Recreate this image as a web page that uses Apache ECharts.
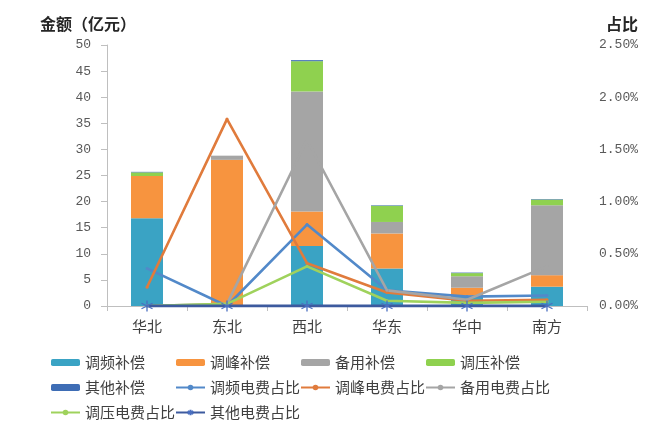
<!DOCTYPE html>
<html>
<head>
<meta charset="utf-8">
<script src="https://cdn.jsdelivr.net/npm/echarts@6/dist/echarts.min.js"></script>
<style>
  html, body { margin: 0; padding: 0; background: #fff; }
  #chart { width: 646px; height: 426px; }
</style>
</head>
<body>
<div id="chart"></div>
<script>
// 区域
var regions = ['华北', '东北', '西北', '华东', '华中', '南方'];

// 补偿金额（亿元）
var tiaopin = [16.8, 0, 11.5, 7.2, 2.0, 3.7];
var tiaofeng = [8.1, 28.0, 6.6, 6.7, 1.5, 2.2];
var beiyong = [0, 0.8, 23.0, 2.2, 2.2, 13.4];
var tiaoya = [0.7, 0, 5.8, 3.1, 0.6, 1.1];
var qita = [0.1, 0, 0.2, 0.1, 0.1, 0.1];

// 电费占比（%）
var tiaopinPct = [0.36, 0, 0.78, 0.15, 0.09, 0.10];
var tiaofengPct = [0.18, 1.79, 0.41, 0.13, 0.05, 0.06];
var beiyongPct = [0, 0.02, 1.59, 0.15, 0.06, 0.38];
var tiaoyaPct = [0, 0.02, 0.38, 0.05, 0.03, 0.04];
var qitaPct = [0, 0, 0, 0, 0, 0];

// 刻度
var leftTicks = [0, 50, 5];
var rightTicks = [0, 2.5, 0.5];

var myChart = echarts.init(document.getElementById('chart'));

var numFont = 'Liberation Mono';
var cnFont = 'Noto Sans CJK SC';
var starPath = 'path://M5,0L5,10M0.7,2.5L9.3,7.5M9.3,2.5L0.7,7.5';

function barSeries(name, data, color) {
    return {
        name: name,
        type: 'bar',
        stack: 'money',
        barWidth: '40%',
        data: data,
        itemStyle: { color: color }
    };
}

function lineSeries(name, data, color) {
    return {
        name: name,
        type: 'line',
        yAxisIndex: 1,
        data: data,
        symbol: 'circle',
        symbolSize: 3,
        lineStyle: { color: color, width: 2.6 },
        itemStyle: { color: color }
    };
}

var legendBase = {
    orient: 'vertical',
    top: 350,
    itemWidth: 29,
    itemHeight: 7,
    itemGap: 10,
    textStyle: { fontFamily: cnFont, fontSize: 15, color: '#404040' }
};

function legendAt(left, names) {
    return Object.assign({}, legendBase, { left: left, data: names });
}

var option = {
    animation: false,
    backgroundColor: '#ffffff',
    title: [{
        text: '金额（亿元）',
        left: 35,
        top: 11,
        textStyle: { fontFamily: cnFont, fontSize: 16, fontWeight: 'bold', color: '#262626' }
    }, {
        text: '占比',
        right: 3,
        top: 11,
        textStyle: { fontFamily: cnFont, fontSize: 16, fontWeight: 'bold', color: '#262626' }
    }],
    legend: [
        legendAt(45, ['调频补偿', '其他补偿', '调压电费占比']),
        legendAt(170, ['调峰补偿', '调频电费占比', '其他电费占比']),
        legendAt(295, ['备用补偿', '调峰电费占比']),
        legendAt(420, ['调压补偿', '备用电费占比'])
    ],
    grid: {
        left: 107,
        right: 59,
        top: 45,
        bottom: 120
    },
    xAxis: {
        type: 'category',
        data: regions,
        axisLine: { lineStyle: { color: '#bfbfbf', width: 1 } },
        axisTick: { show: true, length: 5, lineStyle: { color: '#bfbfbf' } },
        axisLabel: { fontFamily: cnFont, fontSize: 15, color: '#404040', margin: 13 }
    },
    yAxis: [{
        type: 'value',
        min: leftTicks[0],
        max: leftTicks[1],
        interval: leftTicks[2],
        axisLine: { show: true, lineStyle: { color: '#bfbfbf' } },
        axisTick: { show: true, length: 6, lineStyle: { color: '#bfbfbf' } },
        splitLine: { show: false },
        axisLabel: { fontFamily: numFont, fontSize: 13, color: '#595959', margin: 16 }
    }, {
        type: 'value',
        min: rightTicks[0],
        max: rightTicks[1],
        interval: rightTicks[2],
        axisLine: { show: false },
        axisTick: { show: false },
        splitLine: { show: false },
        axisLabel: {
            fontFamily: numFont, fontSize: 13, color: '#595959', margin: 12,
            formatter: function (value) {
                return value.toFixed(2) + '%';
            }
        }
    }],
    series: [
        barSeries('调频补偿', tiaopin, '#3aa3c4'),
        barSeries('调峰补偿', tiaofeng, '#f7943f'),
        barSeries('备用补偿', beiyong, '#a5a5a5'),
        barSeries('调压补偿', tiaoya, '#8fd14f'),
        barSeries('其他补偿', qita, '#3e6db5'),
        lineSeries('调频电费占比', tiaopinPct, '#5289c9'),
        lineSeries('调峰电费占比', tiaofengPct, '#e07b3c'),
        lineSeries('备用电费占比', beiyongPct, '#a5a5a5'),
        lineSeries('调压电费占比', tiaoyaPct, '#9fd25c'),
        {
            name: '其他电费占比',
            type: 'line',
            yAxisIndex: 1,
            data: qitaPct,
            symbol: starPath,
            symbolSize: 11,
            lineStyle: { color: '#3d5a9e', width: 3 },
            itemStyle: { color: '#4a6fc0', borderColor: '#4a6fc0', borderWidth: 1.3 }
        }
    ]
};

myChart.setOption(option);
</script>
</body>
</html>
